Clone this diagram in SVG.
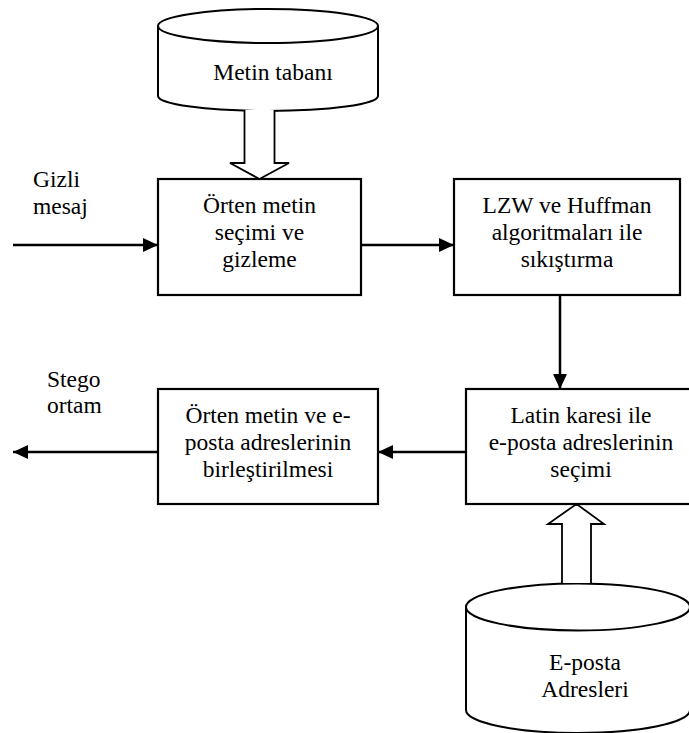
<svg xmlns="http://www.w3.org/2000/svg" width="689" height="733" viewBox="0 0 689 733" font-family="Liberation Serif, Times New Roman, serif">
  <style>
    .box { fill: #ffffff; stroke: #000000; stroke-width: 2.2; }
    .db { fill: #ffffff; stroke: #000000; stroke-width: 2; }
    .flow { fill: none; stroke: #000000; stroke-width: 2.5; }
    .fat { fill: #ffffff; stroke: #000000; stroke-width: 1.8; stroke-linejoin: miter; }
    text { font-size: 23.5px; fill: #000000; }
    .c { text-anchor: middle; }
  </style>
  <defs>
    <marker id="head" viewBox="0 0 15 14" refX="15" refY="7" markerWidth="15" markerHeight="14" markerUnits="userSpaceOnUse" orient="auto">
      <path d="M0,0 L15,7 L0,14 z" fill="#000000"/>
    </marker>
  </defs>

  <rect width="689" height="733" fill="#ffffff"/>

  <!-- text store cylinder -->
  <g id="metin-tabani">
    <path class="db" d="M158,26 L158,96 A110,15 0 0 0 378,96 L378,26"/>
    <ellipse class="db" cx="268" cy="26" rx="110" ry="17"/>
    <text class="c" x="273" y="80">Metin tabanı</text>
  </g>

  <!-- cover text selection -->
  <g id="orten-metin-secimi">
    <rect class="box" x="158" y="179" width="203" height="116"/>
    <text class="c" x="259.5" y="213">Örten metin</text>
    <text class="c" x="259.5" y="240">seçimi ve</text>
    <text class="c" x="259.5" y="267">gizleme</text>
  </g>

  <!-- compression -->
  <g id="sikistirma">
    <rect class="box" x="454" y="179" width="226" height="116"/>
    <text class="c" x="567" y="213">LZW ve Huffman</text>
    <text class="c" x="567" y="240">algoritmaları ile</text>
    <text class="c" x="567" y="267">sıkıştırma</text>
  </g>

  <!-- latin square address selection -->
  <g id="latin-karesi">
    <rect class="box" x="466" y="389" width="230" height="115"/>
    <text class="c" x="581" y="423">Latin karesi ile</text>
    <text class="c" x="581" y="450">e-posta adreslerinin</text>
    <text class="c" x="581" y="477">seçimi</text>
  </g>

  <!-- merging -->
  <g id="birlestirme">
    <rect class="box" x="158" y="389" width="220" height="115"/>
    <text class="c" x="268" y="423">Örten metin ve e-</text>
    <text class="c" x="268" y="450">posta adreslerinin</text>
    <text class="c" x="268" y="477">birleştirilmesi</text>
  </g>

  <!-- e-mail address store cylinder -->
  <g id="eposta-adresleri">
    <path class="db" d="M466,607 L466,710 A112,23 0 0 0 690,710 L690,607"/>
    <ellipse class="db" cx="578" cy="607" rx="112" ry="23.5"/>
    <text class="c" x="585" y="670">E-posta</text>
    <text class="c" x="585" y="697">Adresleri</text>
  </g>

  <!-- free labels -->
  <g id="gizli-mesaj">
    <text x="33" y="187">Gizli</text>
    <text x="33" y="214">mesaj</text>
  </g>
  <g id="stego-ortam">
    <text x="47" y="387">Stego</text>
    <text x="47" y="413">ortam</text>
  </g>

  <!-- connectors -->
  <g id="connectors">
    <line class="flow" x1="13" y1="245" x2="158" y2="245" marker-end="url(#head)"/>
    <line class="flow" x1="361" y1="245" x2="454" y2="245" marker-end="url(#head)"/>
    <line class="flow" x1="560" y1="295" x2="560" y2="389" marker-end="url(#head)"/>
    <line class="flow" x1="466" y1="452" x2="378" y2="452" marker-end="url(#head)"/>
    <line class="flow" x1="158" y1="452" x2="13" y2="452" marker-end="url(#head)"/>
    <!-- block arrows -->
    <path class="fat" d="M244.5,110 L244.5,163 L230,163 L259.5,179 L289,163 L274.5,163 L274.5,110"/>
    <path class="fat" d="M562,583 L562,524 L548,524 L576.5,504 L604,524 L591,524 L591,583"/>
  </g>
</svg>
